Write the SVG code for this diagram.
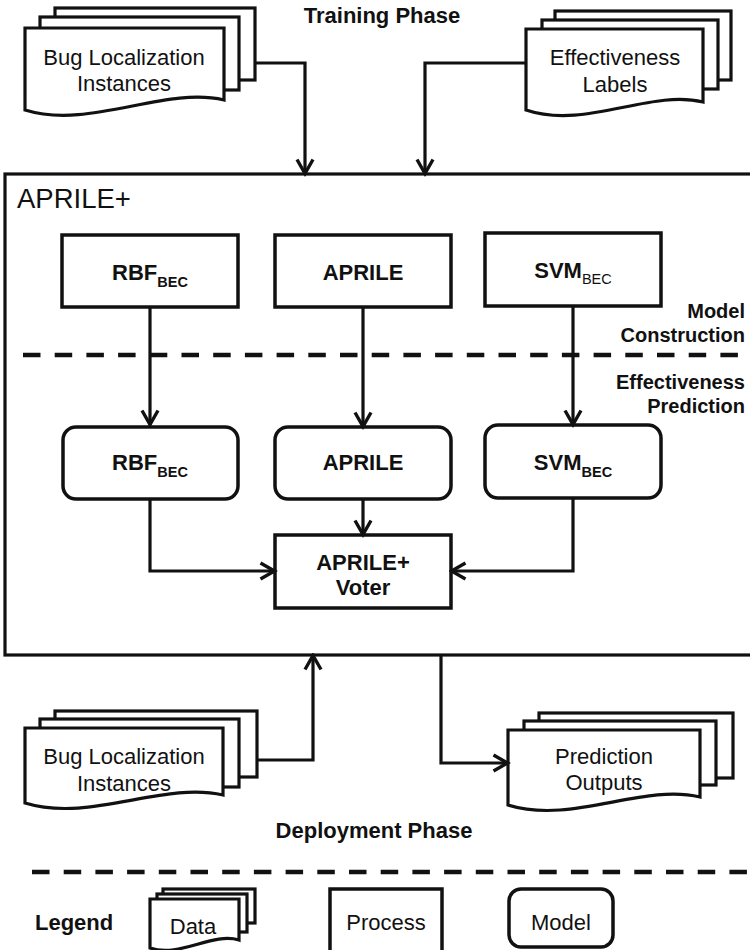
<svg xmlns="http://www.w3.org/2000/svg" width="750" height="950" viewBox="0 0 750 950">
  <style>
    .sheet { fill: #fff; stroke: #111; stroke-width: 3.2; stroke-linejoin: miter; }
    .box { fill: #fff; stroke: #111; stroke-width: 3.5; }
    .frame { fill: none; stroke: #111; stroke-width: 3.2; }
    .conn { fill: none; stroke: #111; stroke-width: 3.2; marker-end: url(#arrow); }
    .plain { fill: none; stroke: #111; stroke-width: 3.2; }
    .dash { fill: none; stroke: #111; stroke-width: 4.5; stroke-dasharray: 17.5 14.2; }
    text { font-family: "Liberation Sans", Arial, sans-serif; fill: #111; }
    .reg { font-size: 22px; }
    .bold { font-size: 22px; font-weight: bold; }
    .lbl { font-size: 20px; font-weight: bold; }
    .sub { font-size: 14.5px; }
  </style>
  <defs>
    <marker id="arrow" markerUnits="userSpaceOnUse" viewBox="0 0 20 20" markerWidth="20" markerHeight="20" refX="17.5" refY="10" orient="auto">
      <path d="M3,2 L17,10 L3,18" fill="none" stroke="#111" stroke-width="3.4"/>
    </marker>
  </defs>

  <!-- phase labels -->
  <text class="bold" x="382" y="23" text-anchor="middle">Training Phase</text>
  <text class="bold" x="374" y="838" text-anchor="middle">Deployment Phase</text>

  <!-- training data: bug localization instances -->
  <g id="train-instances">
    <rect class="sheet" x="55" y="8" width="200" height="72"/>
    <rect class="sheet" x="40" y="17" width="199" height="73"/>
    <path class="sheet" d="M25,28 H224 V100 C164,86 90,130 25,110 Z"/>
    <text class="reg" x="124" y="65" text-anchor="middle">Bug Localization</text>
    <text class="reg" x="124" y="91" text-anchor="middle">Instances</text>
  </g>

  <!-- training data: effectiveness labels -->
  <g id="train-labels">
    <rect class="sheet" x="555" y="11" width="176" height="69"/>
    <rect class="sheet" x="542" y="20" width="176" height="69"/>
    <path class="sheet" d="M526,29 H703 V102 C650,89 585,130 526,110 Z"/>
    <text class="reg" x="615" y="65" text-anchor="middle">Effectiveness</text>
    <text class="reg" x="615" y="92" text-anchor="middle">Labels</text>
  </g>

  <!-- APRILE+ container -->
  <g id="aprile-plus">
    <rect class="frame" x="5" y="174" width="760" height="481"/>
    <text x="17" y="208" style="font-size:27.5px">APRILE+</text>
    <path class="dash" d="M23,355 H752"/>
    <text class="lbl" x="745" y="318" text-anchor="end">Model</text>
    <text class="lbl" x="745" y="342" text-anchor="end">Construction</text>
    <text class="lbl" x="745" y="389" text-anchor="end">Effectiveness</text>
    <text class="lbl" x="745" y="413" text-anchor="end">Prediction</text>
  </g>

  <!-- construction processes -->
  <g id="proc-rbf">
    <rect class="box" x="62" y="235" width="176" height="72"/>
    <text class="bold" x="150" y="280" text-anchor="middle">RBF<tspan class="sub" dy="7">BEC</tspan></text>
  </g>
  <g id="proc-aprile">
    <rect class="box" x="275" y="235" width="176" height="72"/>
    <text class="bold" x="363" y="280" text-anchor="middle">APRILE</text>
  </g>
  <g id="proc-svm">
    <rect class="box" x="485" y="233" width="176" height="73"/>
    <text class="bold" x="573" y="278" text-anchor="middle">SVM<tspan class="sub" dy="6" font-weight="normal">BEC</tspan></text>
  </g>

  <!-- trained models -->
  <g id="model-rbf">
    <rect class="box" x="63" y="427" width="175" height="72" rx="13"/>
    <text class="bold" x="150" y="470" text-anchor="middle">RBF<tspan class="sub" dy="7">BEC</tspan></text>
  </g>
  <g id="model-aprile">
    <rect class="box" x="275" y="427" width="176" height="72" rx="13"/>
    <text class="bold" x="363" y="470" text-anchor="middle">APRILE</text>
  </g>
  <g id="model-svm">
    <rect class="box" x="485" y="425" width="176" height="73" rx="13"/>
    <text class="bold" x="573" y="470" text-anchor="middle">SVM<tspan class="sub" dy="7">BEC</tspan></text>
  </g>

  <!-- voter -->
  <g id="voter">
    <rect class="box" x="275" y="535" width="176" height="73"/>
    <text class="bold" x="363" y="570" text-anchor="middle">APRILE+</text>
    <text class="bold" x="363" y="595" text-anchor="middle">Voter</text>
  </g>

  <!-- deployment data: bug localization instances -->
  <g id="deploy-instances">
    <rect class="sheet" x="55" y="711" width="202" height="66"/>
    <rect class="sheet" x="40" y="719" width="199" height="68"/>
    <path class="sheet" d="M25,728 H223 V795 C163,781 90,823 25,803 Z"/>
    <text class="reg" x="124" y="764" text-anchor="middle">Bug Localization</text>
    <text class="reg" x="124" y="791" text-anchor="middle">Instances</text>
  </g>

  <!-- deployment data: prediction outputs -->
  <g id="deploy-outputs">
    <rect class="sheet" x="539" y="713" width="194" height="65"/>
    <rect class="sheet" x="524" y="721" width="192" height="64"/>
    <path class="sheet" d="M508,730 H700 V797 C642,783 572,825 508,805 Z"/>
    <text class="reg" x="604" y="764" text-anchor="middle">Prediction</text>
    <text class="reg" x="604" y="790" text-anchor="middle">Outputs</text>
  </g>

  <!-- connectors -->
  <g id="connectors">
    <path class="conn" d="M255,63 H305 V174"/>
    <path class="conn" d="M526,63 H425 V174"/>
    <path class="conn" d="M150,307 V425"/>
    <path class="conn" d="M363,307 V427"/>
    <path class="conn" d="M573,306 V425"/>
    <path class="conn" d="M363,499 V535"/>
    <path class="conn" d="M150,499 V571 H275"/>
    <path class="conn" d="M573,498 V571 H451"/>
    <path class="conn" d="M257,760 H313 V655"/>
    <path class="conn" d="M441,655 V763 H508"/>
  </g>

  <!-- legend -->
  <g id="legend">
    <path class="dash" d="M32,872 H752"/>
    <text class="bold" x="35" y="930">Legend</text>
    <g id="legend-data">
      <rect class="sheet" x="163" y="889" width="92" height="34"/>
      <rect class="sheet" x="157" y="894" width="90" height="38"/>
      <path class="sheet" d="M150,899 H239 V940 C212,932 180,958 150,948 Z"/>
      <text class="reg" x="193" y="934" text-anchor="middle">Data</text>
    </g>
    <g id="legend-process">
      <rect class="box" x="330" y="889" width="112" height="70"/>
      <text class="reg" x="386" y="930" text-anchor="middle">Process</text>
    </g>
    <g id="legend-model">
      <rect class="box" x="509" y="889" width="104" height="58" rx="12"/>
      <text class="reg" x="561" y="930" text-anchor="middle">Model</text>
    </g>
  </g>
</svg>
